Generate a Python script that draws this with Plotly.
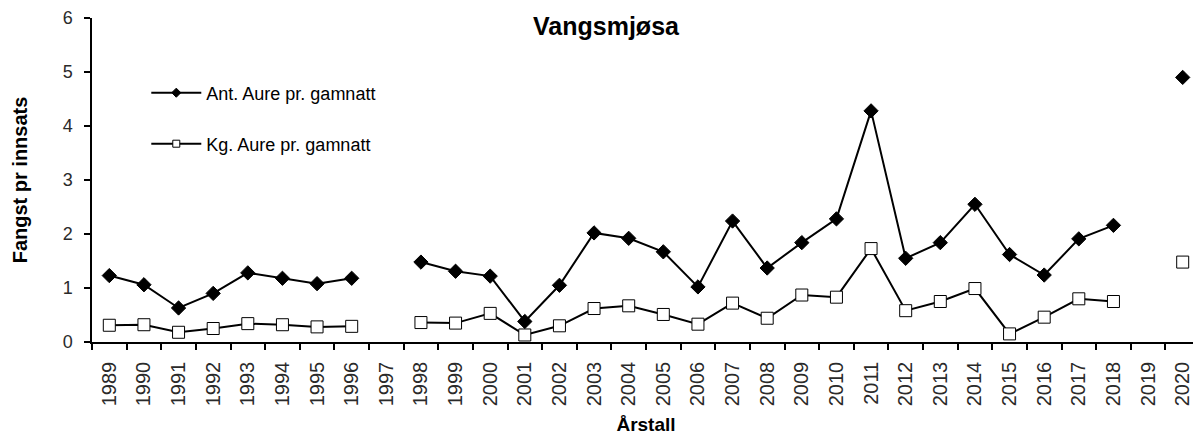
import plotly.graph_objects as go

years = [str(y) for y in range(1989, 2021)]
ant_aure = [1.23, 1.06, 0.63, 0.90, 1.28, 1.18, 1.08, 1.18, None,
            1.48, 1.31, 1.22, 0.38, 1.05, 2.02, 1.92, 1.67, 1.02, 2.24, 1.37,
            1.84, 2.28, 4.28, 1.55, 1.84, 2.55, 1.62, 1.24, 1.91, 2.16, None, 4.90]
kg_aure = [0.31, 0.32, 0.18, 0.25, 0.34, 0.32, 0.28, 0.29, None,
           0.36, 0.35, 0.53, 0.13, 0.30, 0.62, 0.67, 0.51, 0.33, 0.72, 0.44,
           0.87, 0.83, 1.73, 0.58, 0.75, 0.99, 0.15, 0.46, 0.80, 0.75, None, 1.48]
series_names = ["Ant. Aure pr. gamnatt", "Kg. Aure pr. gamnatt"]

FONT = "Arial, Liberation Sans, sans-serif"

fig = go.Figure()
fig.add_trace(go.Scatter(
    x=years, y=ant_aure, name=series_names[0], mode="lines+markers",
    connectgaps=False, showlegend=False,
    line=dict(color="black", width=2),
    marker=dict(symbol="diamond", size=11, color="black", line=dict(color="black", width=1)),
))
fig.add_trace(go.Scatter(
    x=years, y=kg_aure, name=series_names[1], mode="lines+markers",
    connectgaps=False, showlegend=False,
    line=dict(color="black", width=2),
    marker=dict(symbol="square", size=12, color="white", line=dict(color="black", width=1)),
))
# legend entries (smaller legend symbols, as in the original)
fig.add_trace(go.Scatter(
    x=[None], y=[None], name=series_names[0], mode="lines+markers", legend="legend",
    line=dict(color="black", width=2),
    marker=dict(symbol="diamond", size=7, color="black", line=dict(color="black", width=1)),
))
fig.add_trace(go.Scatter(
    x=[None], y=[None], name=series_names[1], mode="lines+markers", legend="legend2",
    line=dict(color="black", width=2),
    marker=dict(symbol="square", size=7, color="white", line=dict(color="black", width=1)),
))

# the page body adds an 8px offset; the figure is sized to fill the remaining window
W, H, OFF = 1193, 427, 8

fig.update_layout(
    width=W, height=H,
    margin=dict(l=84, r=1, t=10, b=93, autoexpand=False),
    paper_bgcolor="white", plot_bgcolor="white",
    font=dict(family=FONT, color="black"),
    title=dict(text="<b>Vangsmjøsa</b>", font=dict(size=25, family=FONT, color="black"),
               xref="container", x=(606 - OFF) / W, xanchor="center",
               yref="container", y=1 - (26 - OFF) / H, yanchor="middle"),
    legend=dict(x=0.049, y=1 - (93 - 18) / 324, xanchor="left", yanchor="middle",
                bgcolor="rgba(0,0,0,0)", itemwidth=50,
                font=dict(size=18, family=FONT, color="black")),
    legend2=dict(x=0.049, y=1 - (144 - 18) / 324, xanchor="left", yanchor="middle",
                 bgcolor="rgba(0,0,0,0)", itemwidth=50,
                 font=dict(size=18, family=FONT, color="black")),
    showlegend=True,
)

fig.update_xaxes(
    type="category", categoryorder="array", categoryarray=years,
    range=[-0.5, len(years) - 0.5], automargin=False,
    showgrid=False, zeroline=False,
    showline=True, linecolor="black", linewidth=1.5,
    ticks="outside", tickson="boundaries", ticklen=6, tickcolor="black", tickwidth=1.5,
    tickangle=-90, tickfont=dict(size=20, family=FONT, color="#2a2a2a"),
    ticklabelstandoff=10,
    title=dict(text="<b>Årstall</b>", font=dict(size=19, family=FONT, color="black"), standoff=12),
)
fig.update_yaxes(
    range=[0, 6], dtick=1, tick0=0, automargin=False,
    showgrid=False, zeroline=False,
    showline=True, linecolor="black", linewidth=1.5,
    ticks="outside", ticklen=6, tickcolor="black", tickwidth=1.5,
    tickfont=dict(size=18, family=FONT, color="#2a2a2a"),
    ticklabelstandoff=8,
    title=dict(text="<b>Fangst pr innsats</b>", font=dict(size=20, family=FONT, color="black"), standoff=30),
)

fig.write_html("out.html")
